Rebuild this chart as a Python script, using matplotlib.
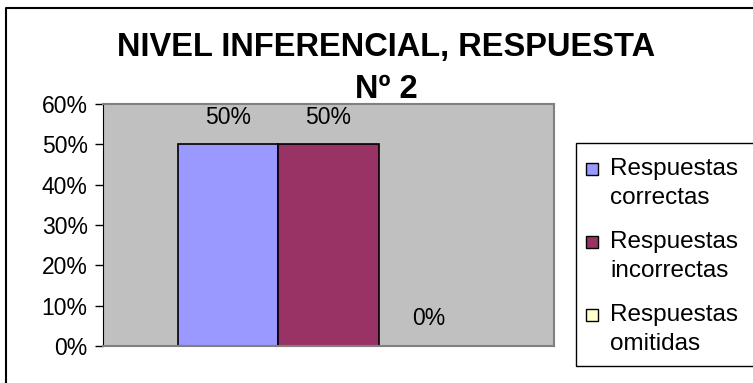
import matplotlib.pyplot as plt
from matplotlib.patches import Rectangle
from matplotlib.lines import Line2D
from matplotlib.ticker import PercentFormatter

plt.rcParams['font.family'] = ['Liberation Sans', 'DejaVu Sans']

categories = ["Respuestas\ncorrectas", "Respuestas\nincorrectas", "Respuestas\nomitidas"]
values = [0.50, 0.50, 0.0]
colors = ["#9999FF", "#993366", "#FFFFCC"]
yticks = [0, 0.1, 0.2, 0.3, 0.4, 0.5, 0.6]

W, H = 753, 383
fig = plt.figure(figsize=(W / 100, H / 100), dpi=100)
ax = fig.add_axes([103 / W, 1 - 346 / H, (554 - 103) / W, (346 - 104) / H])
ax.set_facecolor("#C0C0C0")

x = range(len(values))
bars = ax.bar(x, values, width=1.0, color=colors, edgecolor="black", linewidth=1.2)
for b, v in zip(bars, values):
    ax.annotate(f"{v:.0%}", (b.get_x() + b.get_width() / 2, v),
                xytext=(0, 19.5), textcoords="offset points",
                ha="center", va="center", fontsize=16.5)

ax.set_xlim(-1.246, 3.246)
ax.set_ylim(0, 0.6)
ax.set_yticks(yticks)
ax.yaxis.set_major_formatter(PercentFormatter(1.0, decimals=0))
ax.set_xticks([])
ax.tick_params(axis="y", length=6, width=1, labelsize=16.5, pad=5)
for s in ["top", "right", "bottom"]:
    ax.spines[s].set_color("#808080")
    ax.spines[s].set_linewidth(1.5)
ax.spines["left"].set_color("black")

# title
fig.text(386 / W, 1 - 56 / H, "NIVEL INFERENCIAL, RESPUESTA", ha="center",
         va="baseline", fontsize=23.5, fontweight="bold")
fig.text(386 / W, 1 - 98 / H, "Nº 2", ha="center", va="baseline",
         fontsize=23.5, fontweight="bold")

# legend box
fig.patches.append(Rectangle((576 / W, 1 - 366 / H), (760 - 576) / W, (366 - 143) / H,
                             transform=fig.transFigure, facecolor="white",
                             edgecolor="black", linewidth=1))
for i, (lab, c) in enumerate(zip(categories, colors)):
    yc = 169 + 73 * i
    fig.patches.append(Rectangle((586 / W, 1 - (yc + 6) / H), 12 / W, 12 / H,
                                 transform=fig.transFigure, facecolor=c,
                                 edgecolor="black", linewidth=1))
    fig.text(610 / W, 1 - (yc + 14.5) / H, lab, ha="left", va="center",
             fontsize=17.5, linespacing=1.45)

# outer chart border
fig.lines.append(Line2D([6 / W, 6 / W, 1], [0, 1 - 8 / H, 1 - 8 / H],
                        transform=fig.transFigure, color="black", linewidth=1.5))

fig.savefig("out.png", dpi=100)
